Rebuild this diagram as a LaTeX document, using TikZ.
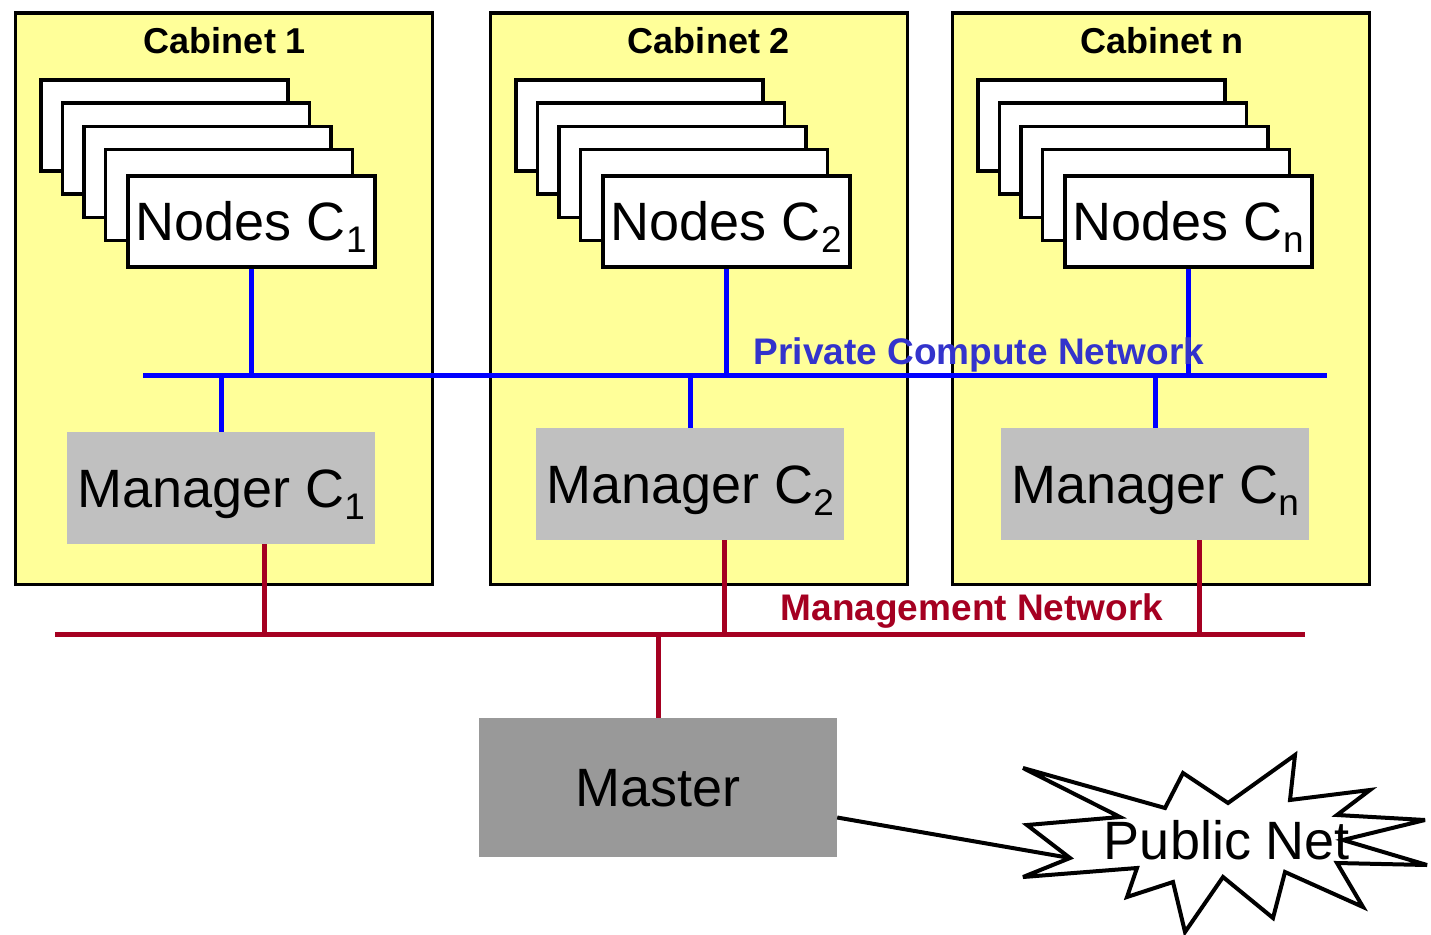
\documentclass[tikz,border=0pt]{standalone}
\usepackage{fontspec}
\setmainfont{Liberation Sans}
\definecolor{cabyellow}{HTML}{FFFF99}
\definecolor{mgrgray}{HTML}{C0C0C0}
\definecolor{mastergray}{HTML}{999999}
\definecolor{pcnblue}{HTML}{0000FF}
\definecolor{pcnlabel}{HTML}{3333CC}
\definecolor{mnred}{HTML}{A50021}
\newcommand\bigtxt{\fontsize{54}{60}\selectfont}
\newcommand\midtxt{\fontsize{36}{40}\selectfont\bfseries}
\newcommand\labtxt{\fontsize{37}{40}\selectfont\bfseries}
\newcommand\subs[1]{\raisebox{-12pt}{\fontsize{37}{37}\selectfont #1}}
\tikzset{
  cab/.style={draw=black, line width=3.5pt, fill=cabyellow, inner sep=0pt},
  stackbox/.style={draw=black, line width=3.5pt, fill=white},
  frontbox/.style={draw=black, line width=3.5pt, fill=white, minimum width=247pt, minimum height=91pt, inner sep=0pt, font=\bigtxt, text height=38.7pt, text depth=0pt},
  mgr/.style={fill=mgrgray, minimum width=308pt, minimum height=112pt, inner sep=0pt, font=\bigtxt, text height=38.7pt, text depth=0pt},
  masterbox/.style={fill=mastergray, minimum width=358pt, minimum height=139pt, inner sep=0pt, font=\bigtxt, text height=38.7pt, text depth=0pt},
  title/.style={font=\midtxt, text height=25.8pt, text depth=0pt, inner sep=0pt},
  netlabel/.style={font=\labtxt, text height=26.5pt, text depth=0pt, inner sep=0pt},
  pcn/.style={draw=pcnblue, line width=5pt},
  mn/.style={draw=mnred, line width=5pt},
  burst/.style={draw=black, line width=4pt, fill=white, line join=miter, miter limit=6},
}
\begin{document}
\begin{tikzpicture}[x=1pt,y=-1pt]
\useasboundingbox (0,0) rectangle (1431,934);
% cabinets
\foreach \i/\x/\tx in {1/13.5/225, 2/488.5/709, n/950.5/1162}{
  \node[cab, anchor=north west, minimum width=417pt, minimum height=571pt] (cab\i) at (\x,11.5) {};
  \node[title] (title\i) at (\tx,41) {Cabinet \i};
  \foreach \k in {0,1,2,3}{
    \draw[stackbox] ({\x+27.5+21.5*\k},{80+23.2*\k}) rectangle ++(247,91);
  }
  \node[frontbox, anchor=north west] (nodes\i) at (\x+112.5,174) {Nodes C\subs{\i}};
}
% managers
\node[mgr] (mgr1) at (221,488) {Manager C\subs{1}};
\node[mgr] (mgr2) at (690,484) {Manager C\subs{2}};
\node[mgr] (mgrn) at (1155,484) {Manager C\subs{n}};
% private compute network
\coordinate (pcnL) at (143,375);
\coordinate (pcnR) at (1327,375);
\draw[pcn] (pcnL) -- (pcnR);
\foreach \i in {1,2,n}{
  \draw[pcn] (nodes\i.south) -- (nodes\i.south |- pcnL);
  \draw[pcn] (mgr\i.north) -- (mgr\i.north |- pcnL);
}
\node[netlabel, text=pcnlabel] (pcnlab) at (979,351) {Private Compute Network};
% management network
\coordinate (mnL) at (55,634);
\coordinate (mnR) at (1305,634);
\draw[mn] (mnL) -- (mnR);
\foreach \i/\d in {1/43,2/34,n/44}{
  \draw[mn] ([xshift=\d pt]mgr\i.south) -- ([xshift=\d pt]mgr\i.south |- mnL);
}
\node[netlabel, text=mnred] (mnlab) at (972,607) {Management Network};
% master
\node[masterbox] (master) at (658,787.5) {Master};
\draw[mn] (master.north) -- (master.north |- mnL);
% public net
\coordinate (pubin) at (1070,858);
\draw[line width=4pt] ([yshift=-30pt]master.east) -- (pubin);
\draw[burst] (1023,768) -- (1165,808) -- (1183,773) -- (1228,803) -- (1295,755) -- (1290,800)
  -- (1370,790) -- (1337,815) -- (1425,820) -- (1343,840) -- (1427,865) -- (1337,863)
  -- (1363,907) -- (1285,872) -- (1273,918) -- (1223,877) -- (1185,932) -- (1173,882)
  -- (1127,897) -- (1137,868) -- (1023,877) -- (pubin) -- (1027,825) -- (1120,817) -- cycle;
\node[font=\bigtxt, text height=38.7pt, text depth=0pt, inner sep=0pt] (pub) at (1227,840) {Public Net};
\end{tikzpicture}
\end{document}
